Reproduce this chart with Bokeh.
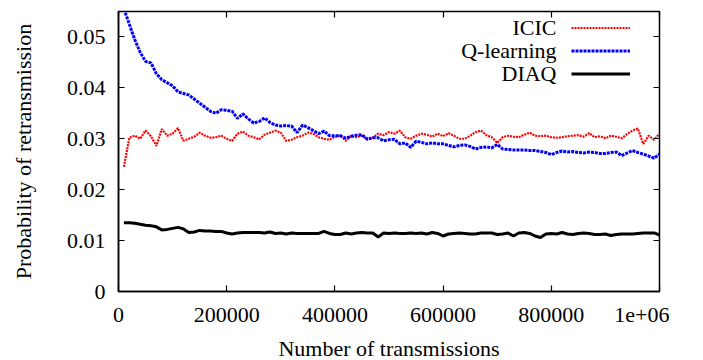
from bokeh.plotting import figure
from bokeh.models import (LinearAxis, FixedTicker, Range1d, Legend, LegendItem, Label)
from bokeh.embed import file_html
from bokeh.resources import INLINE

# ---------------- data ----------------
transmissions = [10000 * i for i in range(1, 101)]

icic = [0.0245, 0.0302, 0.0306, 0.0300, 0.0316, 0.0305, 0.0286, 0.0319, 0.0306, 0.0310,
        0.0321, 0.0296, 0.0300, 0.0304, 0.0312, 0.0306, 0.0302, 0.0303, 0.0306, 0.0300,
        0.0296, 0.0310, 0.0314, 0.0306, 0.0303, 0.0299, 0.0308, 0.0312, 0.0316, 0.0312,
        0.0296, 0.0298, 0.0303, 0.0306, 0.0312, 0.0310, 0.0303, 0.0300, 0.0298, 0.0304,
        0.0306, 0.0296, 0.0305, 0.0303, 0.0306, 0.0300, 0.0302, 0.0310, 0.0307, 0.0313,
        0.0310, 0.0316, 0.0303, 0.0300, 0.0306, 0.0310, 0.0308, 0.0304, 0.0310, 0.0305,
        0.0311, 0.0306, 0.0300, 0.0300, 0.0306, 0.0313, 0.0316, 0.0307, 0.0303, 0.0292,
        0.0303, 0.0306, 0.0304, 0.0303, 0.0308, 0.0312, 0.0306, 0.0305, 0.0306, 0.0303,
        0.0302, 0.0303, 0.0305, 0.0306, 0.0307, 0.0304, 0.0311, 0.0303, 0.0305, 0.0301,
        0.0306, 0.0304, 0.0301, 0.0309, 0.0316, 0.0320, 0.0290, 0.0306, 0.0298, 0.0310]

qlearning = [0.0555, 0.0525, 0.0495, 0.0470, 0.0452, 0.0449, 0.0428, 0.0416, 0.0410, 0.0404,
             0.0392, 0.0389, 0.0386, 0.0378, 0.0370, 0.0362, 0.0354, 0.0350, 0.0357, 0.0356,
             0.0354, 0.0340, 0.0349, 0.0339, 0.0331, 0.0334, 0.0341, 0.0332, 0.0327, 0.0325,
             0.0326, 0.0325, 0.0312, 0.0327, 0.0322, 0.0316, 0.0310, 0.0315, 0.0306, 0.0306,
             0.0306, 0.0301, 0.0305, 0.0307, 0.0308, 0.0299, 0.0302, 0.0302, 0.0296, 0.0298,
             0.0299, 0.0290, 0.0292, 0.0283, 0.0295, 0.0293, 0.0290, 0.0292, 0.0290, 0.0290,
             0.0287, 0.0284, 0.0287, 0.0288, 0.0285, 0.0280, 0.0283, 0.0284, 0.0282, 0.0289,
             0.0280, 0.0279, 0.0278, 0.0278, 0.0278, 0.0277, 0.0277, 0.0275, 0.0273, 0.0269,
             0.0273, 0.0276, 0.0274, 0.0275, 0.0273, 0.0272, 0.0274, 0.0273, 0.0271, 0.0271,
             0.0273, 0.0274, 0.0267, 0.0272, 0.0277, 0.0273, 0.0270, 0.0266, 0.0262, 0.0270]

diaq = [0.0135, 0.0135, 0.0134, 0.0132, 0.0130, 0.0129, 0.0127, 0.0121, 0.0122, 0.0124,
        0.0126, 0.0123, 0.0116, 0.0117, 0.0120, 0.0119, 0.0119, 0.0118, 0.0118, 0.0115,
        0.0113, 0.0115, 0.0116, 0.0116, 0.0116, 0.0116, 0.0115, 0.0117, 0.0114, 0.0115,
        0.0113, 0.0115, 0.0114, 0.0114, 0.0114, 0.0114, 0.0114, 0.0118, 0.0114, 0.0112,
        0.0112, 0.0115, 0.0113, 0.0115, 0.0116, 0.0115, 0.0115, 0.0107, 0.0115, 0.0114,
        0.0115, 0.0114, 0.0114, 0.0115, 0.0114, 0.0115, 0.0113, 0.0116, 0.0114, 0.0109,
        0.0113, 0.0114, 0.0115, 0.0114, 0.0113, 0.0113, 0.0115, 0.0115, 0.0115, 0.0112,
        0.0113, 0.0115, 0.0109, 0.0115, 0.0116, 0.0114, 0.0109, 0.0106, 0.0113, 0.0114,
        0.0113, 0.0116, 0.0113, 0.0112, 0.0114, 0.0115, 0.0114, 0.0112, 0.0112, 0.0113,
        0.0110, 0.0112, 0.0113, 0.0113, 0.0113, 0.0114, 0.0115, 0.0115, 0.0115, 0.0111]

x_ticks = [0, 200000, 400000, 600000, 800000, 1000000]
x_tick_labels = ["0", "200000", "400000", "600000", "800000", "1e+06"]
y_ticks = [0, 0.01, 0.02, 0.03, 0.04, 0.05]
y_tick_labels = ["0", "0.01", "0.02", "0.03", "0.04", "0.05"]
series_names = ["ICIC", "Q-learning", "DIAQ"]

FONT = "Liberation Serif"
FS = "22px"

p = figure(frame_width=541, frame_height=280, output_backend="svg", toolbar_location=None,
           x_range=Range1d(0, 1000000), y_range=Range1d(0, 0.055),
           min_border_left=118, min_border_top=11, min_border_right=10, min_border_bottom=0)
p.background_fill_color = "white"
p.border_fill_color = "white"
p.outline_line_color = "black"
p.outline_line_width = 1.5
p.xgrid.visible = False
p.ygrid.visible = False

def style_axis(ax, ticks, labels, show_labels=True):
    ax.ticker = FixedTicker(ticks=ticks)
    ax.major_tick_in = 6
    ax.major_tick_out = 0
    ax.minor_tick_in = 0
    ax.minor_tick_out = 0
    ax.major_tick_line_color = "black"
    ax.major_tick_line_width = 1.2
    ax.axis_line_color = "black"
    ax.axis_line_width = 1.5
    if show_labels:
        ax.major_label_overrides = {t: l for t, l in zip(ticks, labels)}
        ax.major_label_text_font = FONT
        ax.major_label_text_font_size = FS
        ax.major_label_text_font_style = "normal"
        ax.major_label_text_color = "black"
    else:
        ax.major_label_text_alpha = 0
        ax.major_label_text_font_size = "1px"
    ax.axis_label_text_font = FONT
    ax.axis_label_text_font_size = FS
    ax.axis_label_text_font_style = "normal"
    ax.axis_label_text_color = "black"

xa = p.xaxis[0]
style_axis(xa, x_ticks, x_tick_labels)
xa.axis_label = "Number of transmissions"
xa.major_label_standoff = 16
xa.axis_label_standoff = 11

ya = p.yaxis[0]
style_axis(ya, y_ticks, y_tick_labels)
ya.axis_label = "Probability of retransmission"
ya.major_label_standoff = 13
ya.axis_label_standoff = 28

top = LinearAxis()
style_axis(top, x_ticks, x_tick_labels, show_labels=False)
top.major_label_standoff = 0
top.axis_line_color = None
p.add_layout(top, "above")

right = LinearAxis()
style_axis(right, y_ticks, y_tick_labels, show_labels=False)
right.major_label_standoff = 0
right.axis_line_color = None
p.add_layout(right, "right")

r1 = p.line(transmissions, icic, line_color="#ff0000", line_width=2.2, line_dash="2 1")
r2 = p.line(transmissions, qlearning, line_color="#0000ff", line_width=3, line_dash="3 1")
r3 = p.line(transmissions, diaq, line_color="black", line_width=3)

legend = Legend(items=[LegendItem(label=" ", renderers=[r]) for r in (r1, r2, r3)],
                location=(453, 206), glyph_width=59, glyph_height=23, label_height=23,
                label_width=1, label_standoff=0, spacing=0, padding=0, margin=0,
                border_line_color=None, background_fill_alpha=0,
                label_text_font_size="1px")
p.add_layout(legend, "center")

for name, yy in zip(series_names, [264, 241, 218]):
    p.add_layout(Label(x=438, y=yy, x_units="screen", y_units="screen", text=name,
                       text_align="right", text_baseline="middle",
                       text_font=FONT, text_font_size=FS, text_color="black"))

open("out.html", "w").write(file_html(p, INLINE))
